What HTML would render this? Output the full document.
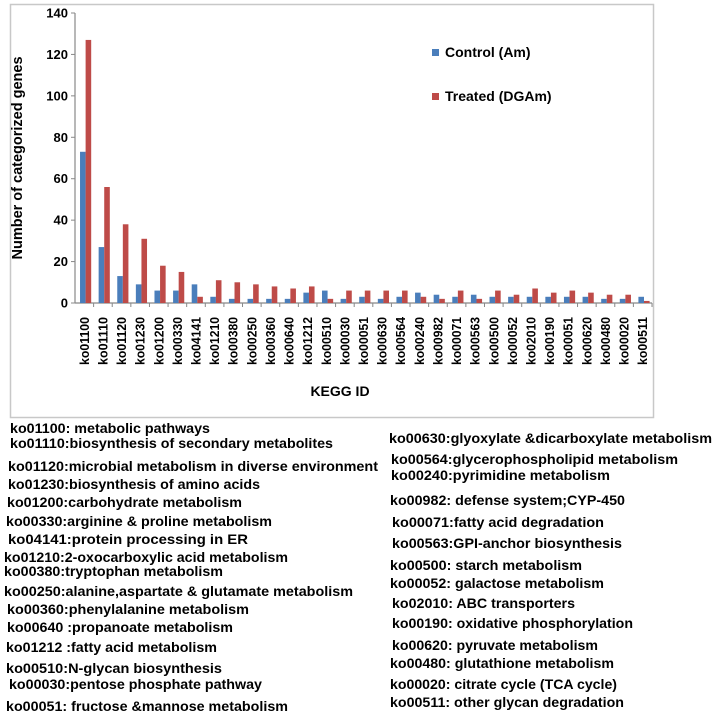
<!DOCTYPE html>
<html><head><meta charset="utf-8"><style>
html,body{margin:0;padding:0;background:#fff;}
svg{display:block;font-family:"Liberation Sans",Arial,sans-serif;}
</style></head><body>
<svg id="c" width="715" height="716" viewBox="0 0 715 716" xmlns="http://www.w3.org/2000/svg">
<rect x="10.5" y="4.5" width="643" height="413" fill="#fff" stroke="#c8c8c8" stroke-width="1.5"/>
<g id="plot"></g>
<text x="22" y="158" transform="rotate(-90 22 158)" text-anchor="middle" font-size="14.5" font-weight="bold">Number of categorized genes</text>
<text x="340" y="396" text-anchor="middle" font-size="14" font-weight="bold">KEGG ID</text>
<g>
<rect x="432" y="49" width="7" height="7" fill="#4a7ebb"/>
<text x="445" y="57" font-size="14" font-weight="bold">Control (Am)</text>
<rect x="432" y="93" width="7" height="7" fill="#be4b48"/>
<text x="445" y="101" font-size="14" font-weight="bold">Treated (DGAm)</text>
</g>
<g id="desc" font-size="14" font-weight="bold"></g>
</svg>
<script>
const categories=["ko01100","ko01110","ko01120","ko01230","ko01200","ko00330","ko04141","ko01210","ko00380","ko00250","ko00360","ko00640","ko01212","ko00510","ko00030","ko00051","ko00630","ko00564","ko00240","ko00982","ko00071","ko00563","ko00500","ko00052","ko02010","ko00190","ko00051","ko00620","ko00480","ko00020","ko00511"];
const controlValues=[73,27,13,9,6,6,9,3,2,2,2,2,5,6,2,3,2,3,5,4,3,4,3,3,3,3,3,3,2,2,3];
const treatedValues=[127,56,38,31,18,15,3,11,10,9,8,7,8,2,6,6,6,6,3,2,6,2,6,4,7,5,6,5,4,4,1];
const yTicks=[0,20,40,60,80,100,120,140];
const leftDesc=["ko01100: metabolic pathways","ko01110:biosynthesis of secondary metabolites","ko01120:microbial metabolism in diverse environment","ko01230:biosynthesis of amino acids","ko01200:carbohydrate metabolism","ko00330:arginine & proline metabolism","ko04141:protein processing in ER","ko01210:2-oxocarboxylic acid metabolism","ko00380:tryptophan metabolism","ko00250:alanine,aspartate & glutamate metabolism","ko00360:phenylalanine metabolism","ko00640 :propanoate metabolism","ko01212 :fatty acid metabolism","ko00510:N-glycan biosynthesis","ko00030:pentose phosphate pathway","ko00051: fructose &mannose metabolism"];
const rightDesc=["ko00630:glyoxylate &dicarboxylate metabolism","ko00564:glycerophospholipid metabolism","ko00240:pyrimidine metabolism","ko00982: defense system;CYP-450","ko00071:fatty acid degradation","ko00563:GPI-anchor biosynthesis","ko00500: starch metabolism","ko00052: galactose metabolism","ko02010: ABC transporters","ko00190: oxidative phosphorylation","ko00620: pyruvate metabolism","ko00480: glutathione metabolism","ko00020: citrate cycle (TCA cycle)","ko00511: other glycan degradation"];
const NS="http://www.w3.org/2000/svg";
const x0=75,x1=652,y0=303,y1=13,ymax=140;
const band=(x1-x0)/categories.length;
const xScale=i=>x0+i*band;
const yScale=v=>y0-(v/ymax)*(y0-y1);
const plot=document.getElementById('plot');
function mk(tag,attrs,parent){const e=document.createElementNS(NS,tag);for(const k in attrs)e.setAttribute(k,attrs[k]);parent.appendChild(e);return e;}
let ax=mk('line',{x1:x0,y1:y0,x2:x0,y2:y1,stroke:'#888','stroke-width':1.2},plot);


yTicks.forEach(t=>{
 const y=yScale(t);
 const tk=mk('line',{x1:x0-4,y1:y,x2:x0,y2:y,stroke:'#888'},plot);
 
 
 const tl=mk('text',{x:x0-7,y:y+4.5,'text-anchor':'end','font-size':13,'font-weight':'bold'},plot);
 tl.textContent=t;
 
 
});
let xa=mk('line',{x1:x0,y1:y0,x2:x1,y2:y0,stroke:'#888','stroke-width':1.2},plot);


const bw=band*0.3;
categories.forEach((c,i)=>{
 const xs=xScale(i);
 const tk=mk('line',{x1:xs+band,y1:y0,x2:xs+band,y2:y0+4,stroke:'#888'},plot);
 
 
 const bx=xs+band*0.27;
 const b1=mk('rect',{x:bx,y:yScale(controlValues[i]),width:bw,height:y0-yScale(controlValues[i]),fill:'#4a7ebb'},plot);
 
 
 const b2=mk('rect',{x:bx+bw,y:yScale(treatedValues[i]),width:bw,height:y0-yScale(treatedValues[i]),fill:'#be4b48'},plot);
 
 
 const cx=xs+band/2+4.5;
 const tl=mk('text',{x:cx,y:365,'text-anchor':'start','font-size':12.5,'font-weight':'bold',transform:`rotate(-90 ${cx} 365)`,textLength:48,lengthAdjust:'spacingAndGlyphs'},plot);
 tl.textContent=c;
 
 
});
const desc=document.getElementById('desc');
const lx=[10,10,8,8,7,6,8,4,4,4,7,7,6,6,9,6], lw=[200,323,370,252,235,266,240,284,219,349,242,226,211,216,253,282];
const ly=[433,448,471,489,507,526,544,562,576,596,614,632,652,673,689,711];
const rx=[389,391,391,390,392,392,390,390,392,392,392,390,390,390], rw=[323,287,219,235,212,230,192,214,183,241,206,224,227,234];
const ry=[443,464,480,505,527,548,570,588,608,628,650,668,689,707];
leftDesc.forEach((s,i)=>{
 const t=mk('text',{x:lx[i],y:ly[i],textLength:lw[i],lengthAdjust:'spacingAndGlyphs'},desc);
 t.textContent=s;
 
 
});
rightDesc.forEach((s,i)=>{
 const t=mk('text',{x:rx[i],y:ry[i],textLength:rw[i],lengthAdjust:'spacingAndGlyphs'},desc);
 t.textContent=s;
 
 
});
</script>
</body></html>
